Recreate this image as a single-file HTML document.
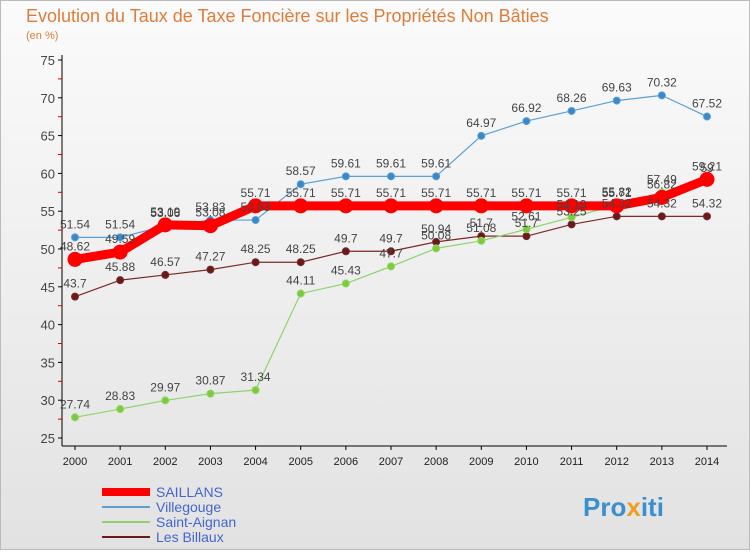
<!DOCTYPE html>
<html><head><meta charset="utf-8"><style>
body{margin:0;width:750px;height:550px;overflow:hidden;font-family:"Liberation Sans",sans-serif;}
</style></head><body>
<svg width="750" height="550">
<defs><linearGradient id="bg" x1="0" y1="0" x2="0" y2="1"><stop offset="0" stop-color="#fbfbfb"/><stop offset="1" stop-color="#e2e2e2"/></linearGradient></defs>
<rect x="0.5" y="0.5" width="749" height="549" fill="url(#bg)" stroke="#bbb"/>
<text x="26" y="22" font-size="18" fill="#e07c3a">Evolution du Taux de Taxe Foncière sur les Propriétés Non Bâties</text>
<text x="26" y="39" font-size="11" fill="#e07c3a">(en %)</text>
<g id="axes"></g><g id="series"></g><g id="labels"></g>
<g>
<rect x="102" y="488" width="48" height="8" fill="#f00"/>
<text x="156" y="497" font-size="14" fill="#4466cc">SAILLANS</text>
<line x1="102" y1="507" x2="150" y2="507" stroke="#5a9fd6" stroke-width="2"/>
<text x="156" y="512" font-size="14" fill="#4466cc">Villegouge</text>
<line x1="102" y1="522" x2="150" y2="522" stroke="#8fd46a" stroke-width="2"/>
<text x="156" y="527" font-size="14" fill="#4466cc">Saint-Aignan</text>
<line x1="102" y1="537" x2="150" y2="537" stroke="#6b1a1a" stroke-width="2"/>
<text x="156" y="542" font-size="14" fill="#4466cc">Les Billaux</text>
</g>
<text x="583" y="516" font-size="26" font-weight="bold" fill="#3a8fd0">Pro<tspan fill="#f0a020">x</tspan>iti</text>
</svg>
<script>
const years=[2000,2001,2002,2003,2004,2005,2006,2007,2008,2009,2010,2011,2012,2013,2014];
const saillans=[48.62,49.59,53.19,53.08,55.71,55.71,55.71,55.71,55.71,55.71,55.71,55.71,55.71,56.82,59.21];
const villegouge=[51.54,51.54,53.06,53.83,53.83,58.57,59.61,59.61,59.61,64.97,66.92,68.26,69.63,70.32,67.52];
const saintAignan=[27.74,28.83,29.97,30.87,31.34,44.11,45.43,47.7,50.08,51.08,52.61,54.19,55.82,57.49,59];
const lesBillaux=[43.7,45.88,46.57,47.27,48.25,48.25,49.7,49.7,50.94,51.7,51.7,53.25,54.32,54.32,54.32];
const yTicks=[25,30,35,40,45,50,55,60,65,70,75];
const NS="http://www.w3.org/2000/svg";
const x=i=>75+i*(707-75)/(years.length-1);
const y=v=>438-(v-25)*(438-60)/50;
function mk(p,t,a){const e=document.createElementNS(NS,t);for(const k in a)e.setAttribute(k,a[k]);p.appendChild(e);return e;}
const ax=document.getElementById('axes'),se=document.getElementById('series'),lb=document.getElementById('labels');
const yl=mk(ax,'line',{x1:62,y1:55,x2:62,y2:446,stroke:'#000'});


const xl=mk(ax,'line',{x1:62,y1:446,x2:727,y2:446,stroke:'#000'});


yTicks.forEach(v=>{
 mk(ax,'line',{x1:58,y1:y(v),x2:62,y2:y(v),stroke:'#000'});
 if(v<75)mk(ax,'line',{x1:58,y1:y(v+2.5),x2:62,y2:y(v+2.5),stroke:'#d00'});
 const t=mk(ax,'text',{x:55,y:y(v)+5,'text-anchor':'end','font-size':13,fill:'#444'});t.textContent=v;
 
 
});
years.forEach((yr,i)=>{
 mk(ax,'line',{x1:x(i),y1:446,x2:x(i),y2:450,stroke:'#000'});
 const t=mk(ax,'text',{x:x(i),y:465,'text-anchor':'middle','font-size':11,fill:'#222'});t.textContent=yr;
 
 
});
function draw(data,color,w,r,name,dot){
 const g=mk(se,'g',{});
 
 
 mk(g,'polyline',{points:data.map((v,i)=>x(i)+','+y(v)).join(' '),fill:'none',stroke:color,'stroke-width':w,'stroke-linejoin':'round'});
 data.forEach((v,i)=>{
  const c=mk(g,'circle',{cx:x(i),cy:y(v),r:r,fill:dot,stroke:color,'stroke-width':1});
  
  
  const t=mk(lb,'text',{x:x(i),y:y(v)-9,'text-anchor':'middle','font-size':12,fill:'#444'});
  t.textContent=String(v);
  
  
 });
}
draw(lesBillaux,'#7a2a2a',1.2,3.5,'les-billaux','#6b1a1a');
draw(saintAignan,'#8fd46a',1.2,3.5,'saint-aignan','#7ccc3a');
draw(villegouge,'#5a9fd6',1.2,3.5,'villegouge','#3a88c8');
draw(saillans,'#f00',9,7,'saillans','#f00');
</script>
</body></html>
